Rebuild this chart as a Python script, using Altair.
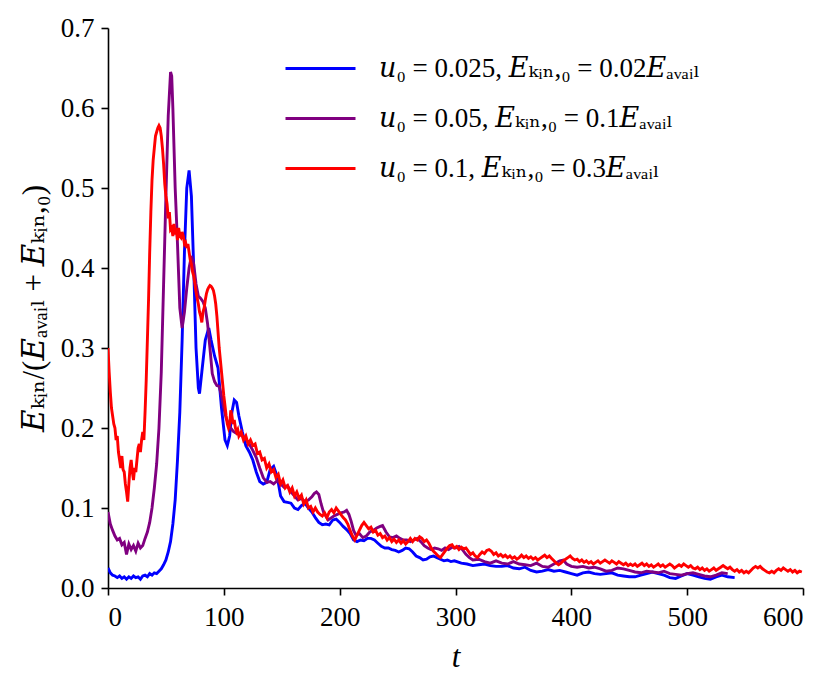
import altair as alt
import pandas as pd

labels = [
    "𝑢₀ = 0.025, 𝐸ₖᵢₙ,₀ = 0.02𝐸ₐᵥₐᵢₗ",
    "𝑢₀ = 0.05, 𝐸ₖᵢₙ,₀ = 0.1𝐸ₐᵥₐᵢₗ",
    "𝑢₀ = 0.1, 𝐸ₖᵢₙ,₀ = 0.3𝐸ₐᵥₐᵢₗ",
]
colors = ["#0000ff", "#800080", "#ff0000"]

x_ticks = [0, 100, 200, 300, 400, 500, 600]
y_ticks = [0.0, 0.1, 0.2, 0.3, 0.4, 0.5, 0.6, 0.7]

blue_t = [0, 2, 4, 6, 8, 10, 12, 14, 16, 18, 20, 22, 24, 26, 28, 30, 32, 34, 36, 38, 40, 42, 44, 46, 48,
          50, 52, 54, 56, 58, 60, 62, 64, 66, 68, 70, 72, 74, 76, 78, 79, 81, 84, 87, 89, 92, 95, 98,
          101, 103, 105, 107, 109, 111, 113, 116, 119, 122, 125, 128, 131, 134, 137, 140, 143, 146,
          149, 152, 155, 158, 161, 164, 167, 170, 173, 176, 179, 182, 185, 188, 191, 194, 197, 200,
          203, 206, 209, 212, 215, 218, 221, 224, 227, 230, 233, 236, 239, 242, 245, 248, 251, 254,
          257, 260, 263, 266, 269, 272, 275, 278, 281, 284, 287, 290, 293, 296, 299, 305, 310, 315,
          320, 325, 330, 335, 340, 345, 350, 355, 360, 365, 370, 375, 380, 385, 390, 395, 400, 405,
          410, 415, 420, 425, 430, 435, 440, 445, 450, 455, 460, 465, 470, 475, 480, 485, 490, 495,
          500, 505, 510, 515, 520, 525, 530, 535, 541]
blue_y = [0.025, 0.019, 0.016, 0.015, 0.013, 0.015, 0.012, 0.014, 0.011, 0.014, 0.012, 0.015, 0.013,
          0.014, 0.011, 0.015, 0.016, 0.014, 0.018, 0.016, 0.019, 0.018, 0.021, 0.024, 0.029,
          0.035, 0.045, 0.058, 0.08, 0.11, 0.16, 0.22, 0.31, 0.42, 0.50, 0.522, 0.49, 0.40, 0.30,
          0.25, 0.243, 0.27, 0.31, 0.325, 0.31, 0.29, 0.275, 0.225, 0.185, 0.178, 0.19, 0.22, 0.235,
          0.232, 0.215, 0.195, 0.178, 0.17, 0.16, 0.145, 0.133, 0.13, 0.132, 0.148, 0.152, 0.14,
          0.115, 0.108, 0.107, 0.106, 0.10, 0.098, 0.103, 0.106, 0.10, 0.095, 0.088, 0.082, 0.079,
          0.08, 0.079, 0.085, 0.086, 0.082, 0.077, 0.073, 0.068, 0.06, 0.058, 0.06, 0.059, 0.062,
          0.062, 0.06, 0.056, 0.052, 0.05, 0.05, 0.048, 0.047, 0.045, 0.047, 0.05, 0.049, 0.045,
          0.04, 0.038, 0.035, 0.036, 0.039, 0.04, 0.038, 0.036, 0.034, 0.035, 0.033, 0.034, 0.031,
          0.03, 0.028, 0.029, 0.03, 0.028, 0.027, 0.027, 0.028, 0.025, 0.024, 0.026, 0.022, 0.02,
          0.021, 0.023, 0.021, 0.022, 0.02, 0.018, 0.016, 0.019, 0.02, 0.018, 0.017, 0.018, 0.019,
          0.016, 0.015, 0.014, 0.014, 0.016, 0.018, 0.02, 0.018, 0.016, 0.013, 0.012, 0.015, 0.018,
          0.016, 0.014, 0.012, 0.011, 0.014, 0.016, 0.014, 0.013]

purple_t = [0, 2, 4, 6, 8, 10, 12, 14, 16, 18, 20, 22, 24, 26, 28, 30, 32, 34, 36, 38, 40, 42, 44,
            46, 48, 50, 52, 54, 55, 56, 58, 60, 62, 64, 66, 68, 70, 72, 74, 76, 78, 80, 82, 84, 86,
            88, 90, 92, 94, 96, 98, 100, 102, 104, 106, 108, 110, 113, 116, 119, 122, 125, 128, 131,
            134, 137, 140, 143, 146, 149, 152, 155, 158, 161, 164, 167, 170, 173, 176, 178, 180, 182,
            184, 186, 188, 190, 192, 195, 198, 201, 204, 206, 208, 210, 212, 214, 217, 220, 223, 226,
            229, 232, 235, 237, 240, 243, 246, 249, 252, 255, 258, 261, 264, 267, 270, 273, 276, 279,
            282, 285, 288, 291, 294, 297, 300, 303, 306, 309, 312, 315, 320, 325, 330, 335, 340, 345,
            350, 355, 360, 365, 370, 375, 380, 385, 390, 393, 396, 400, 405, 410, 415, 420, 425, 430,
            435, 440, 445, 450, 455, 460, 465, 470, 475, 480, 485, 490, 495, 500, 505, 510, 515, 520,
            525, 530, 535]
purple_y = [0.095, 0.08, 0.072, 0.065, 0.06, 0.062, 0.054, 0.057, 0.042, 0.055, 0.048, 0.053, 0.046,
            0.056, 0.05, 0.053, 0.062, 0.07, 0.082, 0.10, 0.125, 0.155, 0.20, 0.27, 0.38, 0.49, 0.59,
            0.645, 0.64, 0.60, 0.50, 0.43, 0.35, 0.325, 0.345, 0.375, 0.40, 0.415, 0.405, 0.38, 0.365,
            0.362, 0.358, 0.35, 0.33, 0.30, 0.268, 0.258, 0.253, 0.252, 0.24, 0.225, 0.212, 0.205,
            0.20, 0.196, 0.194, 0.192, 0.19, 0.186, 0.18, 0.172, 0.163, 0.15, 0.138, 0.132, 0.133,
            0.13, 0.134, 0.13, 0.126, 0.128, 0.12, 0.115, 0.11, 0.112, 0.108, 0.11, 0.114, 0.118,
            0.12, 0.117, 0.105, 0.095, 0.09, 0.085, 0.087, 0.09, 0.092, 0.094, 0.095, 0.097, 0.092,
            0.083, 0.072, 0.066, 0.068, 0.063, 0.065, 0.07, 0.072, 0.075, 0.077, 0.078, 0.07, 0.064,
            0.063, 0.065, 0.062, 0.06, 0.06, 0.058, 0.06, 0.062, 0.058, 0.053, 0.05, 0.048, 0.05,
            0.049, 0.047, 0.05, 0.048, 0.051, 0.05, 0.052, 0.048, 0.042, 0.038, 0.035, 0.036, 0.033,
            0.031, 0.034, 0.031, 0.03, 0.033, 0.03, 0.029, 0.028, 0.031, 0.027, 0.026, 0.03, 0.034,
            0.035, 0.03, 0.027, 0.026, 0.027, 0.025, 0.026, 0.024, 0.021, 0.022, 0.025, 0.024, 0.022,
            0.02, 0.019, 0.021, 0.02, 0.019, 0.021, 0.018, 0.017, 0.016, 0.018, 0.019, 0.017, 0.015,
            0.014, 0.016, 0.019, 0.018]

red_t = list(range(0, 113)) + list(range(113, 600, 2)) + [599]
red_t = sorted(set(red_t))
red_y = [0.30, 0.27, 0.245, 0.225, 0.215, 0.205, 0.20, 0.185, 0.19, 0.17,
         0.16, 0.15, 0.165, 0.148, 0.145, 0.13, 0.12, 0.108, 0.13, 0.15,
         0.16, 0.145, 0.135, 0.15, 0.145, 0.16, 0.175, 0.18, 0.17, 0.185,
         0.195, 0.185, 0.22, 0.26, 0.31, 0.36, 0.42, 0.47, 0.51, 0.535,
         0.55, 0.565, 0.57, 0.575, 0.578, 0.575, 0.565, 0.55, 0.53, 0.505,
         0.49, 0.48, 0.462, 0.47, 0.448, 0.45, 0.44, 0.455, 0.442, 0.45,
         0.435, 0.45, 0.44, 0.438, 0.445, 0.44, 0.43, 0.432, 0.425, 0.43,
         0.42, 0.41, 0.405, 0.395, 0.39, 0.38, 0.37, 0.362, 0.355, 0.345,
         0.34, 0.332, 0.345, 0.35, 0.36, 0.368, 0.373, 0.376, 0.378, 0.377,
         0.375, 0.372, 0.365, 0.355, 0.34, 0.32, 0.30, 0.285, 0.27, 0.255,
         0.24, 0.228, 0.215, 0.205, 0.20, 0.205, 0.222, 0.215, 0.205, 0.21,
         0.20, 0.195, 0.198,
         # 113 .. 599 step 2
         0.19, 0.195, 0.185, 0.19, 0.18, 0.185, 0.178, 0.18, 0.168, 0.17,
         0.16, 0.162, 0.15, 0.155, 0.145, 0.148, 0.138, 0.142, 0.13, 0.135,
         0.125, 0.128, 0.12, 0.125, 0.115, 0.12, 0.112, 0.116, 0.105, 0.11,
         0.10, 0.102, 0.095, 0.10, 0.095, 0.092, 0.09, 0.094, 0.088, 0.095,
         0.098, 0.094, 0.10, 0.096, 0.092, 0.088, 0.085, 0.08, 0.072, 0.065,
         0.06, 0.066, 0.072, 0.078, 0.082, 0.078, 0.074, 0.076, 0.07, 0.072,
         0.066, 0.068, 0.063, 0.065, 0.06, 0.063, 0.058, 0.061, 0.057, 0.06,
         0.056, 0.059, 0.055, 0.058, 0.062, 0.058, 0.062, 0.06, 0.064, 0.062,
         0.058, 0.06, 0.056, 0.05, 0.046, 0.043, 0.04, 0.038, 0.042, 0.046,
         0.05, 0.053, 0.054, 0.05, 0.052, 0.048, 0.051, 0.049, 0.05, 0.046,
         0.042, 0.044, 0.04, 0.038, 0.042, 0.045, 0.043, 0.047, 0.048, 0.046,
         0.042, 0.044, 0.04, 0.042, 0.039, 0.041, 0.038, 0.04, 0.037, 0.039,
         0.036, 0.038, 0.041, 0.038, 0.04, 0.037, 0.039, 0.036, 0.038, 0.035,
         0.037, 0.039, 0.041, 0.038, 0.04, 0.037, 0.034, 0.031, 0.029, 0.031,
         0.034, 0.036, 0.038, 0.04, 0.037, 0.035, 0.036, 0.033, 0.035, 0.032,
         0.034, 0.031, 0.033, 0.03, 0.032, 0.034, 0.031, 0.033, 0.035, 0.033,
         0.031, 0.034, 0.032, 0.03, 0.033, 0.031, 0.029, 0.031, 0.028, 0.03,
         0.028, 0.03, 0.027, 0.029, 0.031, 0.028, 0.03, 0.027, 0.029, 0.026,
         0.028, 0.03, 0.027, 0.029, 0.026, 0.028, 0.03, 0.028, 0.025, 0.027,
         0.029, 0.027, 0.03, 0.028, 0.026, 0.028, 0.025, 0.024, 0.026, 0.023,
         0.025, 0.022, 0.024, 0.021, 0.023, 0.025, 0.022, 0.024, 0.026, 0.028,
         0.026, 0.024, 0.026, 0.023, 0.021, 0.023, 0.02, 0.022, 0.019, 0.021,
         0.019, 0.022, 0.025, 0.027, 0.025, 0.027, 0.024, 0.022, 0.02, 0.019,
         0.021, 0.019, 0.022, 0.024, 0.022, 0.025, 0.023, 0.021, 0.023, 0.02,
         0.022, 0.019, 0.021, 0.02]

n = min(len(red_t), len(red_y))
red_t, red_y = red_t[:n], red_y[:n]

series = [(blue_t, blue_y), (purple_t, purple_y), (red_t, red_y)]

FONT = "'Liberation Serif', 'Times New Roman', 'DejaVu Serif', serif"

layers = []
for lab, (ts, ys) in zip(labels, series):
    df = pd.DataFrame({"t": ts, "E": ys, "series": lab})
    layers.append(
        alt.Chart(df).mark_line(strokeWidth=2.9, clip=True).encode(
            x=alt.X("t:Q", scale=alt.Scale(domain=[0, 600], nice=False),
                    axis=alt.Axis(values=x_ticks, title="t", titleFontStyle="italic",
                                  labelPadding=9, titlePadding=12)),
            y=alt.Y("E:Q", scale=alt.Scale(domain=[0, 0.7], nice=False),
                    axis=alt.Axis(values=y_ticks, format=".1f", labelPadding=7,
                                  titlePadding=10,
                                  title="𝐸ₖᵢₙ/(𝐸ₐᵥₐᵢₗ + 𝐸ₖᵢₙ,₀)")),
            color=alt.Color("series:N",
                            scale=alt.Scale(domain=labels, range=colors),
                            legend=alt.Legend(title=None, orient="none", legendX=176, legendY=4,
                                              symbolType="stroke", symbolSize=4900,
                                              symbolStrokeWidth=2.9, labelFontSize=27,
                                              labelFont=FONT, labelColor="black",
                                              rowPadding=0, labelOffset=22, padding=0,
                                              labelLimit=600)),
            order=alt.Order("t:Q"),
        )
    )

chart = alt.layer(*layers).properties(
    width=695, height=560,
    padding={"left": 10, "top": 6, "right": 10, "bottom": 5},
).configure_view(stroke=None).configure_axis(
    grid=False, domainColor="black", domainWidth=1.6, tickColor="black", tickWidth=1.6,
    tickSize=7, labelFont=FONT, labelFontSize=27, labelColor="black",
    titleFont=FONT, titleFontSize=31, titleColor="black", titleFontWeight="normal",
)

chart.save("out.html", embed_options={"renderer": "svg", "actions": False})
